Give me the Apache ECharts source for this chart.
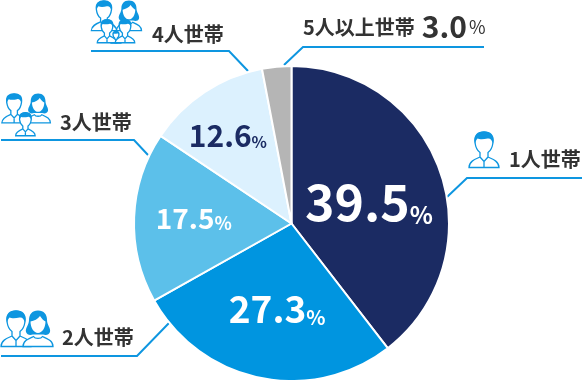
<!DOCTYPE html>
<html>
<head>
<meta charset="utf-8">
<style>html,body{margin:0;padding:0;background:#fff}#main{width:582px;height:380px}</style>
<script src="https://cdn.jsdelivr.net/npm/echarts@6/dist/echarts.min.js"></script>
</head>
<body>
<div id="main"></div>
<script>
var categories = ['1人世帯', '2人世帯', '3人世帯', '4人世帯', '5人以上世帯']
var shares = [39.5, 27.3, 17.5, 12.6, 3.0]
var sliceColors = ['#1b2b63', '#0095e0', '#5cc0ea', '#dcf1fe', '#b5b5b5']

var BLUE = '#0e96e0'
var FONT = '"Noto Sans CJK JP"'
var INK = '#333333'

// in-slice labels: size of number, size of %, colour, nudge from the slice middle
var labelStyles = [
  { big: 50, small: 24, color: '#fff', offset: [0, 5] },
  { big: 37, small: 20, color: '#fff', offset: [2, 5] },
  { big: 28, small: 18, color: '#fff', offset: [-16, -2] },
  { big: 30, small: 16, color: '#1b2b63', offset: [-18.5, -20] },
  null
]

// person icons, drawn in a 32x37 box
var P_BODY = 'M1,36.5C1,31 6,28.5 12,26L12,21.5C9,19.5 7.5,15.5 7,11.5C6,4 10,1 16,1C22,1 26,4 25,11.5C24.5,15.5 23,19.5 20,21.5L20,26C26,28.5 31,31 31,36.5ZM12,26L16,30.5L20,26M16,30.5L16,36'
var P_HAIR = 'M7,13C5,4.5 10,0.5 16,0.5C22,0.5 27,4.5 25,13C24,9 22.5,7 19.5,7.5C15.5,8.5 11.5,8.5 9.5,7.5C8,9 7.5,11 7,13Z'
var W_HAIR = 'M16,0.5C22,0.5 25,4.5 25,10C25,15 29,18 28,22C27,25 24,25.5 21,24.5L11,24.5C8,25.5 5,25 4,22C3,18 7,15 7,10C7,4.5 10,0.5 16,0.5Z'
var W_FACE = 'M8.5,11.5C12,11 16,9 18,6C20,9 22,11 23.5,11.5C23.5,18 20,23 16,23C12,23 8.5,18 8.5,11.5Z'
var W_BODY = 'M1,36.5C1,31 6,29 11.5,26.5C13,29 19,29 20.5,26.5C26,29 31,31 31,36.5Z'

echarts.graphic.registerShape('pBody', echarts.graphic.extendPath(P_BODY))
echarts.graphic.registerShape('pHair', echarts.graphic.extendPath(P_HAIR))
echarts.graphic.registerShape('wHair', echarts.graphic.extendPath(W_HAIR))
echarts.graphic.registerShape('wFace', echarts.graphic.extendPath(W_FACE))
echarts.graphic.registerShape('wBody', echarts.graphic.extendPath(W_BODY))

function man (x, y, s) {
  return {
    type: 'group', x: x, y: y, scaleX: s, scaleY: s,
    children: [
      { type: 'pBody', style: { fill: '#fff', stroke: BLUE, lineWidth: 1.3 / s } },
      { type: 'pHair', style: { fill: BLUE } }
    ]
  }
}
function woman (x, y, s) {
  return {
    type: 'group', x: x, y: y, scaleX: s, scaleY: s,
    children: [
      { type: 'wBody', style: { fill: '#fff', stroke: BLUE, lineWidth: 1.3 / s } },
      { type: 'wHair', style: { fill: BLUE } },
      { type: 'wFace', style: { fill: '#fff' } }
    ]
  }
}
function leader (points) {
  return { type: 'polyline', shape: { points: points }, style: { fill: 'none', stroke: BLUE, lineWidth: 2 } }
}
function caption (text, x, y) {
  return {
    type: 'text', x: x, y: y,
    style: { text: text, font: 'bold 20px ' + FONT, fill: INK, textVerticalAlign: 'middle' }
  }
}

var chartDom = document.getElementById('main')
var myChart = echarts.init(chartDom)

var pieData = categories.map(function (name, i) {
  var st = labelStyles[i]
  if (!st) return { name: name, value: shares[i], itemStyle: { color: sliceColors[i] }, label: { show: false } }
  return {
    name: name,
    value: shares[i],
    itemStyle: { color: sliceColors[i] },
    label: {
      show: true,
      position: 'inside',
      offset: st.offset,
      formatter: '{v|' + shares[i].toFixed(1) + '}{p|%}',
      rich: {
        v: { fontFamily: FONT, fontWeight: 'bold', fontSize: st.big, color: st.color },
        p: { fontFamily: FONT, fontWeight: 'bold', fontSize: st.small, color: st.color, verticalAlign: 'bottom' }
      }
    }
  }
})

var option = {
  animation: false,
  series: [{
    type: 'pie',
    center: [291.5, 223.5],
    radius: [0, 157.5],
    startAngle: 90,
    clockwise: true,
    sort: null,
    silent: true,
    itemStyle: { borderColor: '#fff', borderWidth: 2 },
    labelLine: { show: false },
    data: pieData
  }],
  graphic: [
    leader([[91, 51], [229, 51], [248, 71]]),
    leader([[1, 140], [134, 140], [148, 155]]),
    leader([[1, 356], [137, 356], [169, 323]]),
    leader([[284, 65], [303, 47], [484, 47]]),
    leader([[447, 197], [467, 178], [582, 178]]),

    man(468, 131, 1),
    caption(categories[0], 509, 159),

    man(0, 310, 1),
    woman(22, 310, 1),
    caption(categories[1], 62, 337),

    man(1, 93, 0.82),
    woman(25, 93, 0.82),
    man(15, 112, 0.65),
    caption(categories[2], 60, 122),

    man(90.5, 0, 0.84),
    woman(115.5, 0, 0.84),
    man(110.7, 31, 0.33),
    man(96.6, 19, 0.65),
    man(114.6, 19, 0.65),
    caption(categories[3], 152, 34),

    {
      type: 'text', x: 303, y: 27,
      style: {
        text: '{n|' + categories[4] + '}{v|' + shares[4].toFixed(1) + '}{p|%}',
        textVerticalAlign: 'middle',
        rich: {
          n: { font: 'bold 20px ' + FONT, fill: INK, color: INK },
          v: { font: 'bold 30px ' + FONT, fill: INK, color: INK, padding: [0, 2, 0, 7] },
          p: { font: 'normal 18px ' + FONT, fill: INK, color: INK }
        }
      }
    }
  ]
}

myChart.setOption(option)
window.addEventListener('resize', () => myChart.resize())
</script>
</body>
</html>
